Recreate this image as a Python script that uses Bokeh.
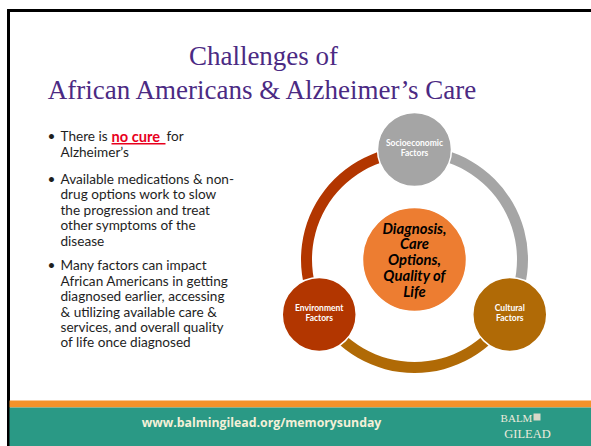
from bokeh.plotting import figure
from bokeh.models import Range1d, Label
from bokeh.core.properties import value
from bokeh.embed import file_html
from bokeh.resources import INLINE
import math

# ---------------- data (texts / labels) ----------------
title_lines = ["Challenges of", "African Americans & Alzheimer\u2019s Care"]
bullet1_parts = ["There is", "no cure", "for"]
bullet1_rest = ["Alzheimer\u2019s"]
bullet2_lines = ["Available medications & non-", "drug options work to slow",
                 "the progression and treat", "other symptoms of the", "disease"]
bullet3_lines = ["Many factors can impact", "African Americans in getting",
                 "diagnosed earlier, accessing", "& utilizing available care &",
                 "services, and overall quality", "of life once diagnosed"]
center_lines = ["Diagnosis,", "Care", "Options,", "Quality of", "Life"]
node_names = ["Socioeconomic", "Cultural", "Environment"]
node_suffix = "Factors"
node_colors = ["#A5A5A5", "#B06A06", "#B23600"]
footer_url = "www.balmingilead.org/memorysunday"
logo_lines = ["BALM", "GILEAD"]

# ---------------- figure in page-pixel coordinates ----------------
W, H = 591, 446
p = figure(width=W, height=H, output_backend="svg", toolbar_location=None,
           x_range=Range1d(0, W), y_range=Range1d(0, H),
           min_border=0, outline_line_color=None)
p.axis.visible = False
p.grid.visible = False
p.background_fill_color = "white"
p.border_fill_color = "white"

def Y(py):
    return H - py

def B(py, fs):
    # baseline correction for the svg text placement
    return Y(py - 0.37 * fs)

SANS = value("Lato")

# border lines (black)
p.quad(left=[7], right=[W], top=[Y(9)], bottom=[Y(11)], color="black")
p.quad(left=[7], right=[9], top=[Y(9)], bottom=[Y(H)], color="black")

# footer bands
p.quad(left=[9], right=[W], top=[Y(400)], bottom=[Y(407)], color="#F4922A", line_color=None)
p.quad(left=[9], right=[W], top=[Y(407)], bottom=[Y(H)], color="#2A9985", line_color=None)
p.text(x=[261], y=[B(427, 12.3)], text=[footer_url], text_font=value("'Open Sans', sans-serif"),
       text_font_size=value("12.3px"), text_font_style="bold", text_color="#F4F0D8",
       text_align="center", text_baseline="alphabetic")
p.add_layout(Label(x=516, y=B(422, 11), text=logo_lines[0], text_font="Liberation Serif",
                   text_font_size="11px", text_color="#EDEBDD", text_align="center",
                   text_baseline="alphabetic"))
p.add_layout(Label(x=527, y=B(438, 12.5), text=logo_lines[1], text_font="Liberation Serif",
                   text_font_size="12.5px", text_color="#EDEBDD", text_align="center",
                   text_baseline="alphabetic"))
p.quad(left=[533], right=[540], top=[Y(413)], bottom=[Y(420)], color="#DAD8C8", line_color=None)

# title
for t, b in zip(title_lines, [65, 99]):
    p.add_layout(Label(x=263, y=B(b, 27), text=t, text_font="Liberation Serif",
                       text_font_size="27px", text_color="#4B2A83", text_align="center",
                       text_baseline="alphabetic"))

# bullets
fs = 13.6
body_size = value("13.6px")
tx = 60
bx = 47
ink = "#1E1E1E"
p.text(x=[bx, bx, bx], y=[B(141, fs), B(183.6, fs), B(270, fs)], text=["\u2022"] * 3, text_font=SANS,
       text_font_size=body_size, text_color=ink, text_baseline="alphabetic")
p.text(x=[tx], y=[B(141, fs)], text=[bullet1_parts[0]], text_font=SANS,
       text_font_size=body_size, text_color=ink, text_baseline="alphabetic")
p.text(x=[111], y=[B(141, 14.6)], text=[bullet1_parts[1]], text_font=SANS,
       text_font_size=value("14.6px"), text_font_style="bold", text_color="#E8001C",
       text_baseline="alphabetic")
p.quad(left=[111], right=[165], top=[Y(142.6)], bottom=[Y(144)], color="#E8001C", line_color=None)
p.text(x=[166], y=[B(141, fs)], text=[bullet1_parts[2]], text_font=SANS,
       text_font_size=body_size, text_color=ink, text_baseline="alphabetic")
p.text(x=[tx], y=[B(156.5, fs)], text=bullet1_rest, text_font=SANS,
       text_font_size=body_size, text_color=ink, text_baseline="alphabetic")

ys2 = [183.6 + 15.4 * i for i in range(len(bullet2_lines))]
p.text(x=[tx] * len(bullet2_lines), y=[B(v, fs) for v in ys2], text=bullet2_lines,
       text_font=SANS, text_font_size=body_size, text_color=ink,
       text_baseline="alphabetic")
ys3 = [270 + 15.4 * i for i in range(len(bullet3_lines))]
p.text(x=[tx] * len(bullet3_lines), y=[B(v, fs) for v in ys3], text=bullet3_lines,
       text_font=SANS, text_font_size=body_size, text_color=ink,
       text_baseline="alphabetic")

# ---------------- cycle diagram ----------------
cx, cyp = 414, 259
cy = Y(cyp)
R_in, R_out = 102.5, 113.5
R_node = 110
angles = [90, 330, 210]  # socio, cultural, environment (degrees)
arc_spans = [(330, 90, node_colors[0]), (210, 330, node_colors[1]), (90, 210, node_colors[2])]
for a0, a1, col in arc_spans:
    p.annular_wedge(x=[cx], y=[cy], inner_radius=R_in, outer_radius=R_out,
                    start_angle=math.radians(a0), end_angle=math.radians(a1),
                    direction="anticlock", color=col, line_color=None)

nx = [cx + R_node * math.cos(math.radians(a)) for a in angles]
ny = [cy + R_node * math.sin(math.radians(a)) for a in angles]
p.circle(x=nx, y=ny, radius=37, fill_color=node_colors, line_color="white", line_width=1.5)
p.circle(x=[cx], y=[cy], radius=52, fill_color="#ED7D31", line_color="white", line_width=1.5)

cfs = 14.8
p.text(x=[cx] * len(center_lines), y=[B(232.5 + 15.9 * i, cfs) for i in range(len(center_lines))],
       text=center_lines, text_font=SANS, text_font_size=value("14.8px"),
       text_font_style="bold italic", text_color="black", text_align="center",
       text_baseline="alphabetic")

nfs = 8.5
for i, name in enumerate(node_names):
    nyp = H - ny[i]
    p.text(x=[nx[i], nx[i]], y=[B(nyp - 3.5, nfs), B(nyp + 6.5, nfs)], text=[name, node_suffix],
           text_font=SANS, text_font_size=value("8.5px"), text_font_style="bold",
           text_color="white", text_align="center", text_baseline="alphabetic")

open("out.html", "w").write(file_html(p, INLINE))
